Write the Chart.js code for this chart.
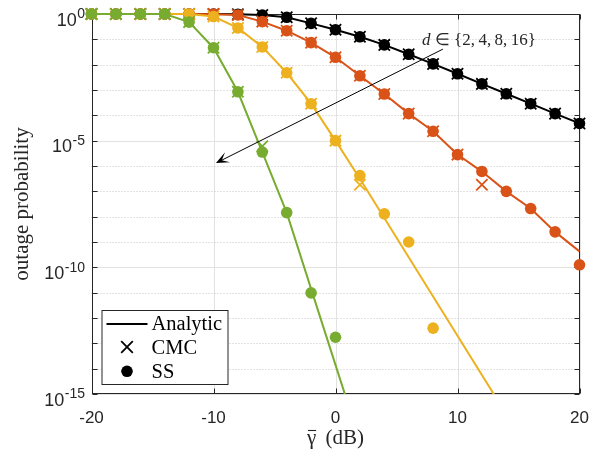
<!DOCTYPE html>
<html>
<head>
<meta charset="utf-8">
<script src="https://cdn.jsdelivr.net/npm/chart.js@4/dist/chart.umd.min.js"></script>
<style>
  html, body { margin: 0; padding: 0; background: #ffffff; }
  #wrap { width: 602px; height: 454px; }
</style>
</head>
<body>
<div id="wrap"><canvas id="c" width="602" height="454"></canvas></div>
<script>
// Average SNR grid (dB)
const snr = [-20, -18, -16, -14, -12, -10, -8, -6, -4, -2, 0, 2, 4, 6, 8, 10, 12, 14, 16, 18, 20];

// Axis ticks
const xTicks = [-20, -10, 0, 10, 20];
const yDecades = [1, 1e-1, 1e-2, 1e-3, 1e-4, 1e-5, 1e-6, 1e-7, 1e-8, 1e-9, 1e-10, 1e-11, 1e-12, 1e-13, 1e-14, 1e-15];
const yLabelValues = [1, 1e-5, 1e-10, 1e-15];
const yLabelExps = ['0', '-5', '-10', '-15'];

// d = 2
const anaD2 = [1, 1, 1, 1, 0.479, 0.0468, 8.51e-4, 3.55e-6, 1.45e-8, 1.41e-11, 1.41e-14, 1.41e-17, null, null, null, null, null, null, null, null, null];
const cmcD2 = [1, 1, 1, 1, 0.479, 0.0468, 8.51e-4, 6.03e-6, null, null, null, null, null, null, null, null, null, null, null, null, null];
const ssD2  = [1, 1, 1, 1, 0.479, 0.0468, 8.51e-4, 3.55e-6, 1.45e-8, 9.77e-12, 1.74e-13, null, null, null, null, null, null, null, null, null, null];

// d = 4
const anaD4 = [1, 1, 1, 1, 0.99, 0.794, 0.282, 0.0501, 4.79e-3, 2.88e-4, 1.0e-5, 3.16e-7, 8.91e-9, 2.51e-10, 7.08e-12, 2.0e-13, 5.62e-15, 1.58e-16, null, null, null];
const cmcD4 = [1, 1, 1, 1, 0.99, 0.794, 0.282, 0.0501, 4.79e-3, 2.88e-4, 1.0e-5, 1.82e-7, null, null, null, null, null, null, null, null, null];
const ssD4  = [1, 1, 1, 1, 0.99, 0.794, 0.282, 0.0501, 4.79e-3, 2.88e-4, 1.0e-5, 4.17e-7, 1.29e-8, 1.0e-9, 3.98e-13, null, null, null, null, null, null];

// d = 8
const anaD8 = [1, 1, 1, 1, 0.9993, 0.9886, 0.912, 0.501, 0.219, 0.0741, 0.0195, 3.63e-3, 6.92e-4, 1.17e-4, 2.34e-5, 2.82e-6, 6.03e-7, 1.0e-7, 2.09e-8, 2.51e-9, 4.27e-10];
const cmcD8 = [1, 1, 1, 1, 0.9993, 0.9886, 0.912, 0.501, 0.219, 0.0741, 0.0195, 3.63e-3, 6.92e-4, 1.17e-4, 2.34e-5, 2.82e-6, 1.82e-7, null, null, null, null];
const ssD8  = [1, 1, 1, 1, 0.9993, 0.9886, 0.912, 0.501, 0.219, 0.0741, 0.0195, 3.63e-3, 6.92e-4, 1.17e-4, 2.34e-5, 2.82e-6, 6.1e-7, 1.0e-7, 2.09e-8, 2.51e-9, 1.26e-10];

// d = 16
const anaD16 = [1, 1, 1, 1, 0.9988, 0.9954, 0.977, 0.912, 0.741, 0.427, 0.240, 0.126, 0.0603, 0.0257, 0.0107, 4.37e-3, 1.74e-3, 7.08e-4, 2.88e-4, 1.17e-4, 4.79e-5];
const cmcD16 = [1, 1, 1, 1, 0.9988, 0.9954, 0.977, 0.912, 0.741, 0.427, 0.240, 0.126, 0.0603, 0.0257, 0.0107, 4.37e-3, 1.74e-3, 7.08e-4, 2.88e-4, 1.17e-4, 4.79e-5];
const ssD16  = [1, 1, 1, 1, 0.9988, 0.9954, 0.977, 0.912, 0.741, 0.427, 0.240, 0.126, 0.0603, 0.0257, 0.0107, 4.37e-3, 1.74e-3, 7.08e-4, 2.88e-4, 1.17e-4, 4.79e-5];

// Annotation anchors in data units: [dB, probability]
const arrowFrom = [8.8, 0.041];
const arrowTo = [-9.8, 1.3e-6];
const noteAt = [7.1, 0.06];

const series = [
  { d: 16, color: '#000000', ana: anaD16, cmc: cmcD16, ss: ssD16, layer: 40 },
  { d: 8,  color: '#D95319', ana: anaD8,  cmc: cmcD8,  ss: ssD8,  layer: 30 },
  { d: 4,  color: '#EDB120', ana: anaD4,  cmc: cmcD4,  ss: ssD4,  layer: 20 },
  { d: 2,  color: '#77AC30', ana: anaD2,  cmc: cmcD2,  ss: ssD2,  layer: 10 }
];

const toPoints = arr => arr.map((v, i) => ({ x: snr[i], y: v }));

const datasets = [];
series.forEach(s => {
  datasets.push({
    label: 'Analytic d=' + s.d, data: toPoints(s.ana), order: s.layer + 2,
    borderColor: s.color, borderWidth: 2, pointRadius: 0, tension: 0, fill: false,
    clip: { left: 1, top: 2, right: 1, bottom: 0 }
  });
  datasets.push({
    label: 'CMC d=' + s.d, data: toPoints(s.cmc), order: s.layer + 1, showLine: false,
    pointStyle: 'crossRot', pointRadius: 8, borderColor: s.color, pointBorderWidth: 1.8,
    backgroundColor: s.color, clip: false
  });
  datasets.push({
    label: 'SS d=' + s.d, data: toPoints(s.ss), order: s.layer, showLine: false,
    pointStyle: 'circle', pointRadius: 5.8, pointBorderWidth: 0, borderColor: s.color,
    backgroundColor: s.color, clip: false
  });
});

const AXIS = '#262626';
const SANS = '"Liberation Sans", Arial, sans-serif';
const SERIF = '"Liberation Serif", "Times New Roman", serif';

function seg(ctx, x1, y1, x2, y2) {
  ctx.beginPath(); ctx.moveTo(x1, y1); ctx.lineTo(x2, y2); ctx.stroke();
}

const frame = {
  id: 'frame',
  beforeDatasetsDraw(chart) {
    const { ctx, chartArea: a, scales: { x, y } } = chart;
    ctx.save();
    ctx.lineWidth = 1;
    // vertical grid
    ctx.strokeStyle = '#e2e2e2';
    xTicks.forEach(v => {
      const px = Math.round(x.getPixelForValue(v)) + 0.5;
      seg(ctx, px, a.top, px, a.bottom);
    });
    // horizontal grid: solid on labelled decades, dotted elsewhere
    yDecades.forEach(v => {
      const py = Math.round(y.getPixelForValue(v)) + 0.5;
      if (yLabelValues.includes(v)) {
        ctx.setLineDash([]); ctx.strokeStyle = '#e2e2e2';
      } else {
        ctx.setLineDash([1, 2]); ctx.strokeStyle = '#c4c4c4';
      }
      seg(ctx, a.left, py, a.right, py);
    });
    ctx.setLineDash([]);
    // axes box with inward ticks
    ctx.strokeStyle = AXIS;
    const L = Math.round(a.left) + 0.5, R = Math.round(a.right) - 0.5;
    const T = Math.round(a.top) + 0.5, B = Math.round(a.bottom) - 0.5;
    ctx.strokeRect(L, T, R - L, B - T);
    yDecades.forEach(v => {
      const py = Math.round(y.getPixelForValue(v)) + 0.5;
      seg(ctx, L, py, L + 5, py);
      seg(ctx, R, py, R - 5, py);
    });
    xTicks.forEach(v => {
      const px = Math.round(x.getPixelForValue(v)) + 0.5;
      seg(ctx, px, B, px, B - 5);
      seg(ctx, px, T, px, T + 5);
    });
    ctx.restore();
  },
  afterDraw(chart) {
    const { ctx, chartArea: a, scales: { x, y } } = chart;
    ctx.save();
    ctx.fillStyle = AXIS;
    // x tick labels
    ctx.font = '17px ' + SANS;
    ctx.textAlign = 'center';
    ctx.textBaseline = 'alphabetic';
    xTicks.forEach(v => ctx.fillText(String(v), x.getPixelForValue(v), a.bottom + 28.5));
    // y tick labels: 10 with superscript exponent
    ctx.textAlign = 'right';
    yLabelValues.forEach((v, i) => {
      const py = y.getPixelForValue(v);
      const right = a.left - 6.5;
      ctx.font = '14px ' + SANS;
      const ew = ctx.measureText(yLabelExps[i]).width;
      ctx.fillText(yLabelExps[i], right, py + 4.3);
      ctx.font = '18px ' + SANS;
      ctx.fillText('10', right - ew - 0.5, py + 11.7);
    });

    // x-axis title: gamma with an overbar, then the unit
    const cx = (a.left + a.right) / 2, ty0 = a.bottom + 50;
    ctx.font = '21px ' + SERIF;
    ctx.textAlign = 'left';
    const gw = ctx.measureText('\u03B3').width;
    const rest = '\u2009(dB)';
    const total = gw + ctx.measureText(' ' + rest).width;
    const gx = cx - total / 2;
    ctx.fillText('\u03B3', gx, ty0);
    ctx.fillText(' ' + rest, gx + gw, ty0);
    ctx.strokeStyle = AXIS; ctx.lineWidth = 1.1;
    seg(ctx, gx + 1, ty0 - 13.5, gx + gw, ty0 - 13.5);

    // legend
    const lx = a.left + 10, ly = a.top + 296;
    ctx.fillStyle = '#ffffff';
    ctx.fillRect(lx, ly, 127, 75);
    ctx.strokeStyle = AXIS; ctx.lineWidth = 1;
    ctx.strokeRect(lx + 0.5, ly + 0.5, 126, 74);
    ctx.strokeStyle = '#000000'; ctx.lineWidth = 2;
    seg(ctx, lx + 5, ly + 14, lx + 46, ly + 14);
    const mx = lx + 25.5;
    ctx.lineWidth = 1.8;
    const c = 5.8;
    seg(ctx, mx - c, ly + 37 - c, mx + c, ly + 37 + c);
    seg(ctx, mx - c, ly + 37 + c, mx + c, ly + 37 - c);
    ctx.fillStyle = '#000000';
    ctx.beginPath(); ctx.arc(mx, ly + 61.3, 5.8, 0, Math.PI * 2); ctx.fill();
    ctx.font = '20.5px ' + SERIF;
    ctx.textAlign = 'left';
    ctx.fillText('Analytic', lx + 50, ly + 19.5);
    ctx.fillText('CMC', lx + 50, ly + 43.5);
    ctx.fillText('SS', lx + 50, ly + 67.5);

    // arrow across the family of curves
    const x1 = x.getPixelForValue(arrowFrom[0]), y1 = y.getPixelForValue(arrowFrom[1]);
    const x2 = x.getPixelForValue(arrowTo[0]), y2 = y.getPixelForValue(arrowTo[1]);
    const len = Math.hypot(x2 - x1, y2 - y1);
    const ux = (x2 - x1) / len, uy = (y2 - y1) / len;
    const nx = -uy, ny = ux;
    const hl = 13, hw = 5.5;
    ctx.strokeStyle = '#000000'; ctx.lineWidth = 1;
    seg(ctx, x1, y1, x2 - ux * hl * 0.5, y2 - uy * hl * 0.5);
    ctx.beginPath();
    ctx.moveTo(x2, y2);
    ctx.lineTo(x2 - ux * hl + nx * hw, y2 - uy * hl + ny * hw);
    ctx.lineTo(x2 - ux * hl * 0.5, y2 - uy * hl * 0.5);
    ctx.lineTo(x2 - ux * hl - nx * hw, y2 - uy * hl - ny * hw);
    ctx.closePath();
    ctx.fill();

    // annotation text
    const tx = x.getPixelForValue(noteAt[0]), ty = y.getPixelForValue(noteAt[1]);
    ctx.fillStyle = '#262626';
    ctx.font = 'italic 17px ' + SERIF;
    ctx.fillText('d', tx, ty);
    const dw = ctx.measureText('d').width;
    ctx.font = '17px ' + SERIF;
    ctx.fillText(' \u2208 {2,\u20094,\u20098,\u200916}', tx + dw, ty);
    ctx.restore();
  }
};

new Chart(document.getElementById('c'), {
  type: 'line',
  data: { datasets },
  options: {
    responsive: false,
    animation: false,
    devicePixelRatio: 1,
    layout: { padding: { left: 0, top: 14, right: 22.5, bottom: 0 } },
    plugins: { legend: { display: false }, tooltip: { enabled: false } },
    scales: {
      x: {
        type: 'linear', min: -20, max: 20,
        afterBuildTicks: s => { s.ticks = xTicks.map(v => ({ value: v })); },
        afterFit: s => { s.height = 60; },
        grid: { display: false }, border: { display: false },
        ticks: { display: false }
      },
      y: {
        type: 'logarithmic', min: 1e-15, max: 1,
        afterBuildTicks: s => { s.ticks = yDecades.map(v => ({ value: v })); },
        afterFit: s => { s.width = 91.5; },
        grid: { display: false }, border: { display: false },
        ticks: { display: false },
        title: {
          display: true, text: 'outage probability', color: AXIS,
          font: { family: SERIF, size: 21, lineHeight: 1 },
          padding: { top: 11.5, bottom: 0 }
        }
      }
    }
  },
  plugins: [frame]
});
</script>
</body>
</html>
